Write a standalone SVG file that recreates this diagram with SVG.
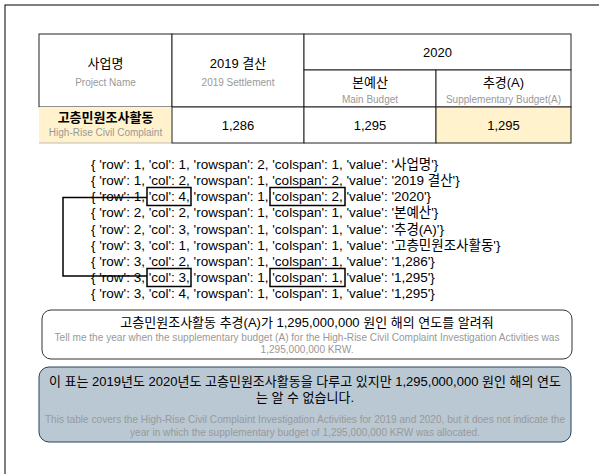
<svg xmlns="http://www.w3.org/2000/svg" width="599" height="474" viewBox="0 0 599 474">
<style>
.cell{stroke:#222;stroke-width:1;fill:#fff}
.yel{fill:#fff2cc}
.ko{font-family:"Liberation Sans","Noto Sans CJK KR",sans-serif;font-size:13px;fill:#000;text-anchor:middle}
.b{font-weight:bold}
.en{font-family:"Liberation Sans",Arial,sans-serif;font-size:10px;fill:#999;text-anchor:middle}
.en2{font-family:"Liberation Sans",Arial,sans-serif;font-size:10.1px;fill:#999;text-anchor:middle}
.num{font-family:"Liberation Sans",Arial,sans-serif;font-size:13px;fill:#000;text-anchor:middle}
.js{font-family:"Liberation Sans","Noto Sans CJK KR",sans-serif;font-size:13.5px;fill:#000}
.hl{fill:none;stroke:#000;stroke-width:1.5}
</style>
<rect x="5" y="5" width="700" height="600" fill="#fff" stroke="#000" stroke-width="1"/>

<g id="cell-project">
<rect class="cell" x="39" y="34" width="133" height="73"/>
<text class="ko" x="105.5" y="67.5">사업명</text>
<text class="en" x="105.5" y="85.5">Project Name</text>
</g>
<g id="cell-2019">
<rect class="cell" x="172" y="34" width="132" height="73"/>
<text class="ko" x="238" y="67.5">2019 결산</text>
<text class="en" x="238" y="85.5">2019 Settlement</text>
</g>
<g id="cell-2020">
<rect class="cell" x="304" y="34" width="267" height="36"/>
<text class="ko" x="437.5" y="57">2020</text>
</g>
<g id="cell-main">
<rect class="cell" x="304" y="70" width="132" height="37"/>
<text class="ko" x="370" y="86.5">본예산</text>
<text class="en" x="370" y="102.5">Main Budget</text>
</g>
<g id="cell-supp">
<rect class="cell" x="436" y="70" width="135" height="37"/>
<text class="ko" x="503.5" y="86.5">추경(A)</text>
<text class="en" x="503.5" y="102.5">Supplementary Budget(A)</text>
</g>
<g id="cell-activity">
<rect class="yel" x="39" y="107" width="133" height="36"/>
<line x1="39" y1="143" x2="172" y2="143" stroke="#bbb" stroke-width="1"/>
<text class="ko b" x="105.5" y="121.5">고층민원조사활동</text>
<text class="en" x="105.5" y="136">High-Rise Civil Complaint</text>
</g>
<g id="cell-1286">
<rect class="cell" x="172" y="107" width="132" height="36"/>
<text class="num" x="238" y="129.5">1,286</text>
</g>
<g id="cell-1295-main">
<rect class="cell" x="304" y="107" width="132" height="36"/>
<text class="num" x="370" y="129.5">1,295</text>
</g>
<g id="cell-1295-supp">
<rect class="cell yel" x="436" y="107" width="135" height="36"/>
<text class="num" x="503.5" y="129.5">1,295</text>
</g>

<g id="json-list">
<text class="js" x="91" y="168.8">{ 'row': 1, 'col': 1, 'rowspan': 2, 'colspan': 1, 'value': '사업명'}</text>
<text class="js" x="91" y="185">{ 'row': 1, 'col': 2, 'rowspan': 1, 'colspan': 2, 'value': '2019 결산'}</text>
<text class="js" x="91" y="201.2">{ 'row': 1, 'col': 4, 'rowspan': 1, 'colspan': 2, 'value': '2020'}</text>
<text class="js" x="91" y="217.4">{ 'row': 2, 'col': 2, 'rowspan': 1, 'colspan': 1, 'value': '본예산'}</text>
<text class="js" x="91" y="233.6">{ 'row': 2, 'col': 3, 'rowspan': 1, 'colspan': 1, 'value': '추경(A)'}</text>
<text class="js" x="91" y="249.8">{ 'row': 3, 'col': 1, 'rowspan': 1, 'colspan': 1, 'value': '고층민원조사활동'}</text>
<text class="js" x="91" y="266">{ 'row': 3, 'col': 2, 'rowspan': 1, 'colspan': 1, 'value': '1,286'}</text>
<text class="js" x="91" y="282.2">{ 'row': 3, 'col': 3, 'rowspan': 1, 'colspan': 1, 'value': '1,295'}</text>
<text class="js" x="91" y="298.4">{ 'row': 3, 'col': 4, 'rowspan': 1, 'colspan': 1, 'value': '1,295'}</text>
</g>

<g id="highlight-r1c4">
<rect class="hl" x="147" y="187.5" width="44" height="18"/>
<rect class="hl" x="270" y="187.5" width="75" height="18"/>
</g>
<g id="highlight-r3c3">
<rect class="hl" x="147" y="268.5" width="44" height="18"/>
<rect class="hl" x="270" y="268.5" width="75" height="18"/>
</g>

<g id="connectors">
<polyline points="147,197.5 63,197.5 63,276 147,276" fill="none" stroke="#000" stroke-width="1.5"/>
</g>

<g id="question">
<rect x="42" y="310" width="530" height="49" rx="9" fill="#fff" stroke="#333" stroke-width="1"/>
<text class="ko" x="307" y="326.5">고층민원조사활동 추경(A)가 1,295,000,000 원인 해의 연도를 알려줘</text>
<text class="en2" x="307" y="341">Tell me the year when the supplementary budget (A) for the High-Rise Civil Complaint Investigation Activities was</text>
<text class="en2" x="307" y="353">1,295,000,000 KRW.</text>
</g>

<g id="answer">
<rect x="39" y="367" width="532" height="75" rx="10" fill="#bac8d3" stroke="#23445d" stroke-width="1"/>
<text class="ko" x="305" y="386">이 표는 2019년도 2020년도 고층민원조사활동을 다루고 있지만 1,295,000,000 원인 해의 연도</text>
<text class="ko" x="305" y="402">는 알 수 없습니다.</text>
<text class="en2" x="305" y="423">This table covers the High-Rise Civil Complaint Investigation Activities for 2019 and 2020, but it does not indicate the</text>
<text class="en2" x="305" y="436">year in which the supplementary budget of 1,295,000,000 KRW was allocated.</text>
</g>
</svg>
